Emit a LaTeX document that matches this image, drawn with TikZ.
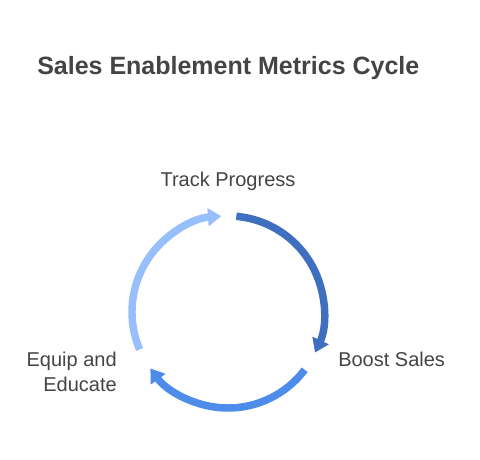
\documentclass[tikz,border=0pt]{standalone}
\usepackage{fontspec}
\setmainfont{Liberation Sans}
\usetikzlibrary{arrows.meta,calc}
\definecolor{txtgray}{HTML}{444444}
\definecolor{cycdark}{HTML}{3F6FBF}
\definecolor{cycmid}{HTML}{4D8CEB}
\definecolor{cyclight}{HTML}{97BFFB}
\begin{document}
\begin{tikzpicture}[x=0.75pt,y=0.75pt,>={Triangle[width=13pt,length=10pt]},
   cycarc/.style={line width=5.6pt,->},
   lbl/.style={text=txtgray,font=\fontsize{15}{18.75}\selectfont,inner sep=0pt}]
   % 枠
   \useasboundingbox (0,0) rectangle (480,460);
   \node [anchor=west,text=txtgray,font=\bfseries\fontsize{18.75}{22}\selectfont,inner sep=0pt] (title) at (37,392) {Sales Enablement Metrics Cycle};
   \coordinate (c) at (228,148);

   % 円弧
   \draw [cycarc,cycdark]  ($(c)+(85:96)$)  arc [start angle=85,  end angle=-25,  radius=96];
   \draw [cycarc,cycmid]   ($(c)+(-37:96)$) arc [start angle=-37, end angle=-144, radius=96];
   \draw [cycarc,cyclight] ($(c)+(203:96)$) arc [start angle=203, end angle=94,   radius=96];

   % ラベル
   \node [lbl] (track) at (228,279) {Track Progress};
   \node [lbl,anchor=west] (boost) at (338,101) {Boost Sales};
   \node [lbl,anchor=east,align=right] (equip) at (117,88) {Equip and\\Educate};
\end{tikzpicture}
\end{document}
